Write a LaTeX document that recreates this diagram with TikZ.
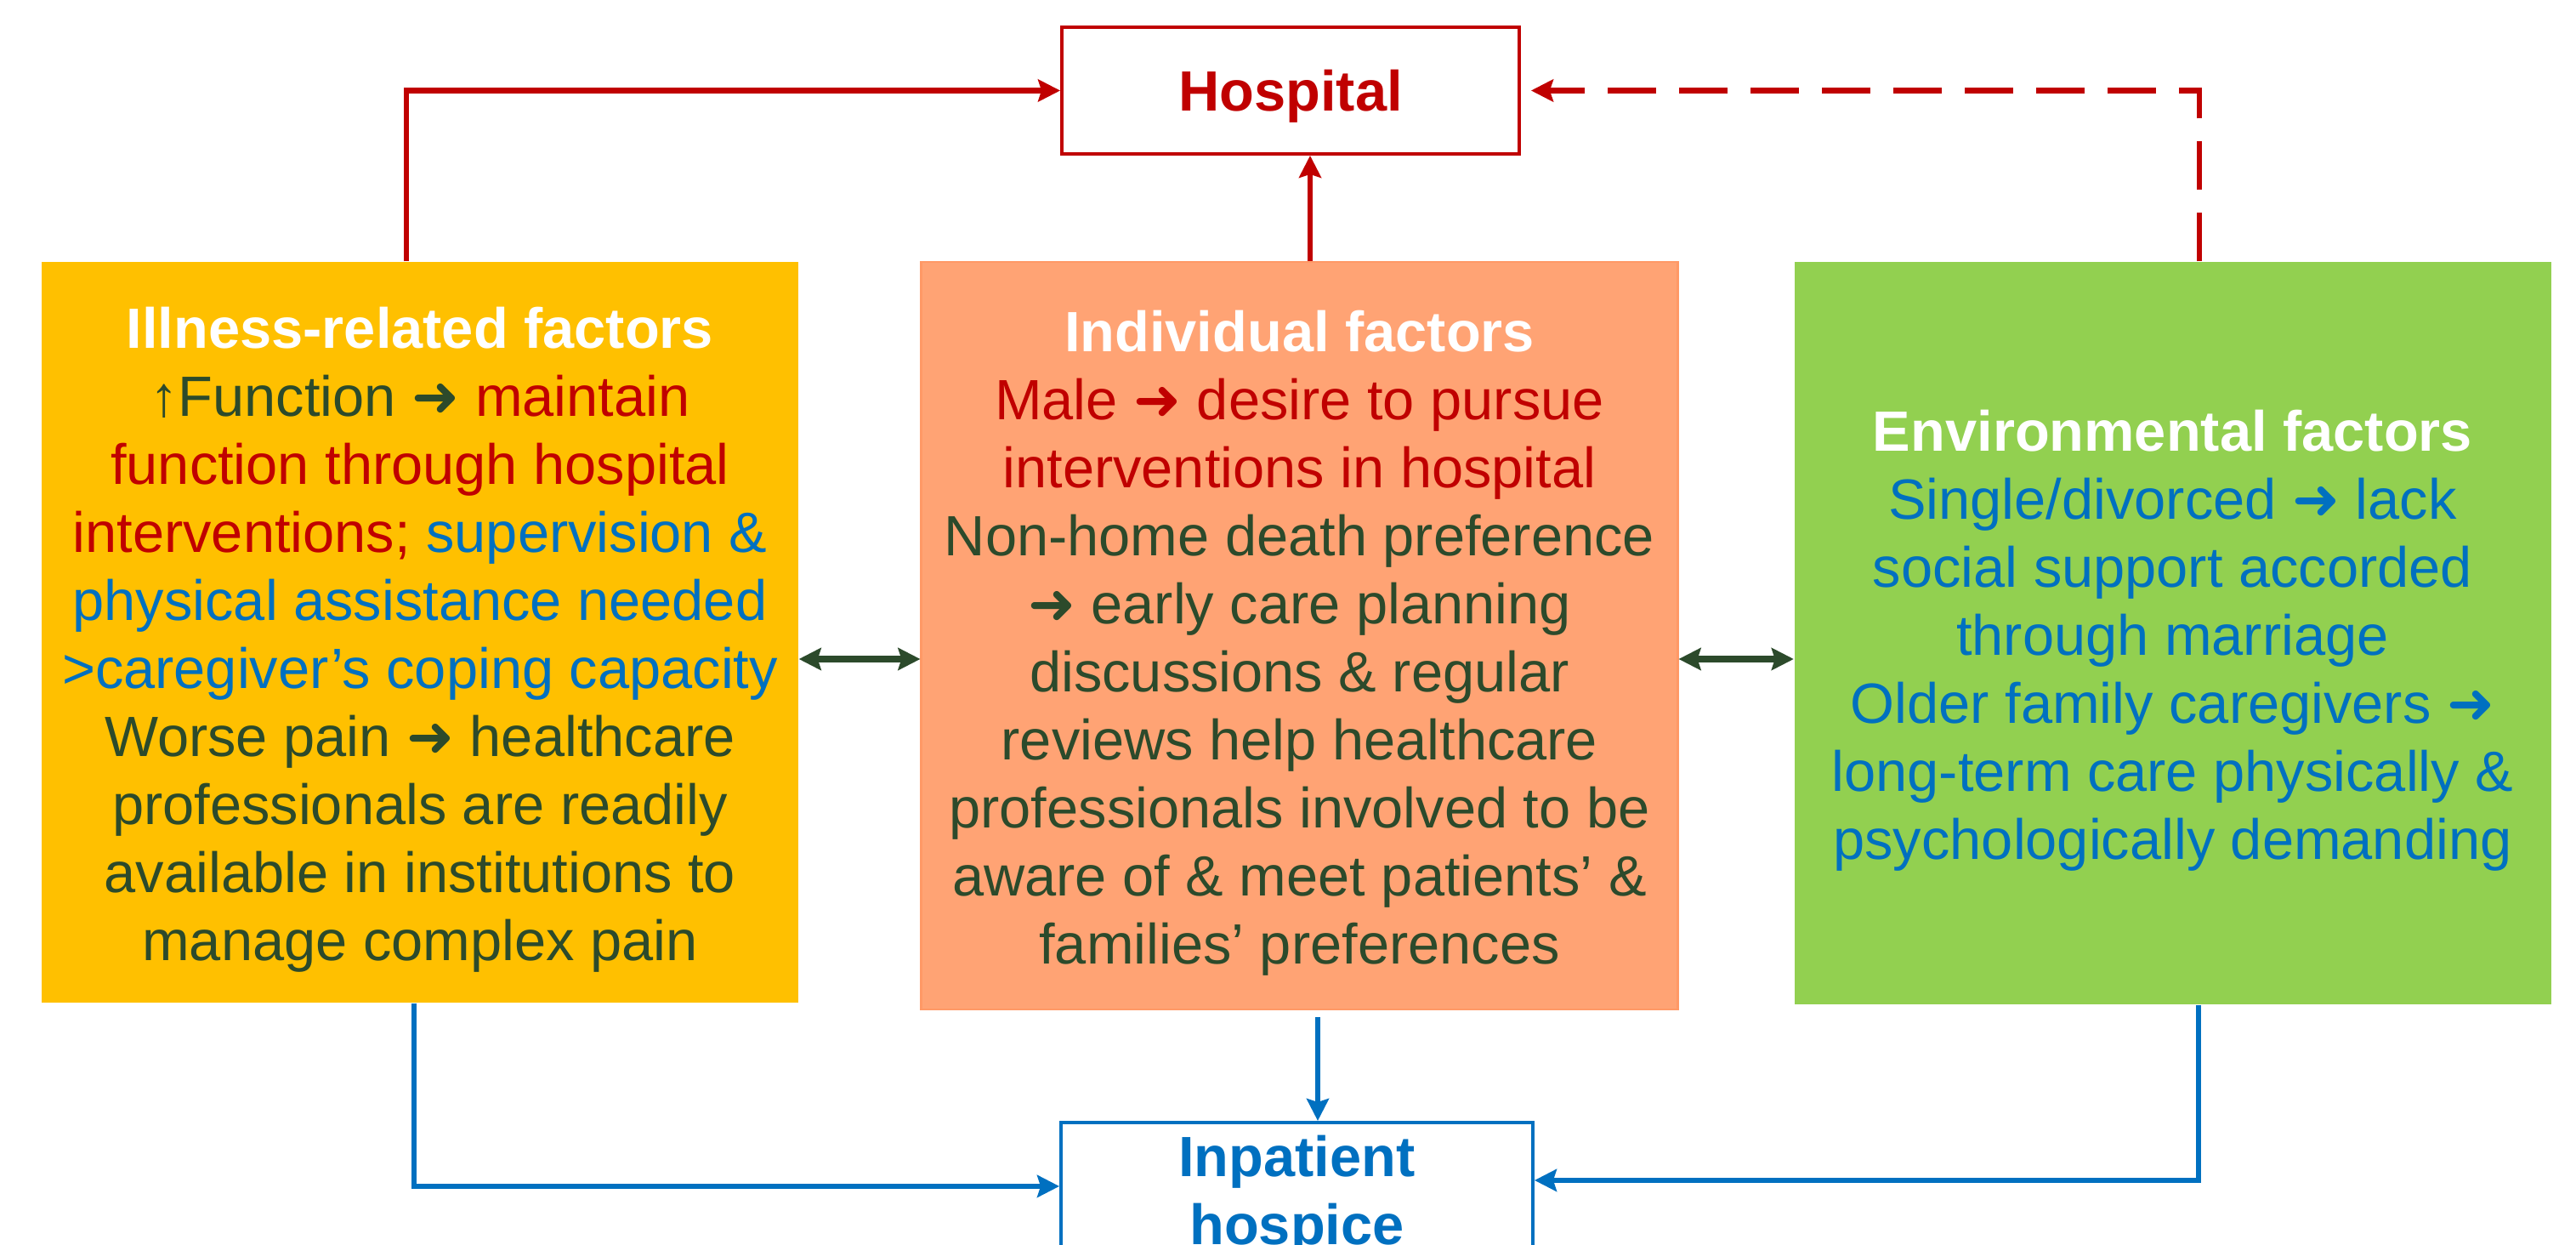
\documentclass[tikz,border=0pt]{standalone}
\usepackage{fontspec}
\setmainfont{Liberation Sans}
\newfontfamily\arrowfont{DejaVu Sans}
\newcommand{\toarrow}{{\arrowfont ➜}}
\usetikzlibrary{arrows.meta}
\definecolor{hred}{HTML}{C00000}
\definecolor{hblue}{HTML}{0070C0}
\definecolor{hdark}{HTML}{2C4A2B}
\definecolor{illfill}{HTML}{FFC000}
\definecolor{indfill}{HTML}{FFA374}
\definecolor{indedge}{HTML}{FF9966}
\definecolor{envfill}{HTML}{92D050}

\tikzset{
  factorbox/.style={rectangle, minimum width=8.9cm, inner sep=0pt, align=center,
    text=hdark, font=\fontsize{19pt}{22.76pt}\selectfont},
  endbox/.style={rectangle, line width=1.1pt, fill=white, inner sep=0pt, align=center,
    font=\fontsize{19pt}{22.76pt}\selectfont\bfseries},
  headarrow/.style={-{Stealth[length=0.26cm,width=0.26cm,inset=0.04cm]}},
  redline/.style={headarrow, draw=hred, line width=1.8pt},
  blueline/.style={headarrow, draw=hblue, line width=1.7pt},
  twoway/.style={{Stealth[length=0.26cm,width=0.26cm,inset=0.04cm]}-{Stealth[length=0.26cm,width=0.26cm,inset=0.04cm]},
    draw=hdark, line width=2.2pt}
}

\begin{document}
\begin{tikzpicture}
  \useasboundingbox (0,0) rectangle (30.30,-14.64);
  \clip (0,0) rectangle (30.30,-14.64);

  \node[factorbox, fill=illfill, minimum height=8.71cm] (ill) at (4.94,-7.435)
    {\rule{0pt}{18.5pt}{\bfseries\color{white}Illness-related factors}\\
     ↑Function \toarrow{} {\color{hred}maintain}\\
     {\color{hred}function through hospital}\\
     {\color{hred}interventions;} {\color{hblue}supervision \&}\\
     {\color{hblue}physical assistance needed}\\
     {\color{hblue}>caregiver’s coping capacity}\\
     Worse pain \toarrow{} healthcare\\
     professionals are readily\\
     available in institutions to\\
     manage complex pain};
  \node[factorbox, fill=indfill, draw=indedge, line width=0.6pt, minimum height=8.79cm] (ind) at (15.285,-7.475)
    {\rule{0pt}{18.5pt}{\bfseries\color{white}Individual factors}\\
     {\color{hred}Male \toarrow{} desire to pursue}\\
     {\color{hred}interventions in hospital}\\
     Non-home death preference\\
     \toarrow{} early care planning\\
     discussions \& regular\\
     reviews help healthcare\\
     professionals involved to be\\
     aware of \& meet patients’ \&\\
     families’ preferences};
  \node[factorbox, fill=envfill, minimum height=8.73cm] (env) at (25.555,-7.445)
    {\rule{0pt}{18.5pt}{\bfseries\color{white}Environmental factors}\\
     {\color{hblue}Single/divorced \toarrow{} lack}\\
     {\color{hblue}social support accorded}\\
     {\color{hblue}through marriage}\\
     {\color{hblue}Older family caregivers \toarrow}\\
     {\color{hblue}long-term care physically \&}\\
     {\color{hblue}psychologically demanding}};

  \node[endbox, draw=hred, text=hred, text depth=0pt, minimum width=5.38cm, minimum height=1.49cm] (hosp) at (15.18,-1.065) {Hospital};
  \node[endbox, draw=hblue, text=hblue, minimum width=5.55cm, minimum height=1.72cm, anchor=north] (hospice) at (15.255,-13.18) {Inpatient\\hospice};

  \coordinate (illtop) at ([xshift=-0.16cm]ill.north);
  \coordinate (indtop) at ([xshift=0.125cm]ind.north);
  \coordinate (envtop) at ([xshift=0.315cm]env.north);
  \draw[redline] (illtop) |- (hosp.west);
  \draw[redline] (indtop) -- (indtop |- hosp.south);
  \draw[redline, dash pattern=on 0.57cm off 0.27cm, shorten >=0.12cm] (envtop) |- (hosp.east);

  \draw[twoway] ([yshift=-0.315cm]ill.east) -- ([yshift=-0.315cm]ill.east -| ind.west);
  \draw[twoway] ([yshift=-0.275cm]ind.east) -- ([yshift=-0.275cm]ind.east -| env.west);

  \coordinate (illbot) at ([xshift=-0.07cm]ill.south);
  \coordinate (indbot) at ([xshift=0.215cm]ind.south);
  \coordinate (envbot) at ([xshift=0.305cm]env.south);
  \draw[blueline] (illbot) |- ([yshift=0.11cm]hospice.west);
  \draw[blueline, shorten <=0.08cm] (indbot) -- (indbot |- hospice.north);
  \draw[blueline] (envbot) |- ([yshift=0.18cm]hospice.east);
\end{tikzpicture}
\end{document}
